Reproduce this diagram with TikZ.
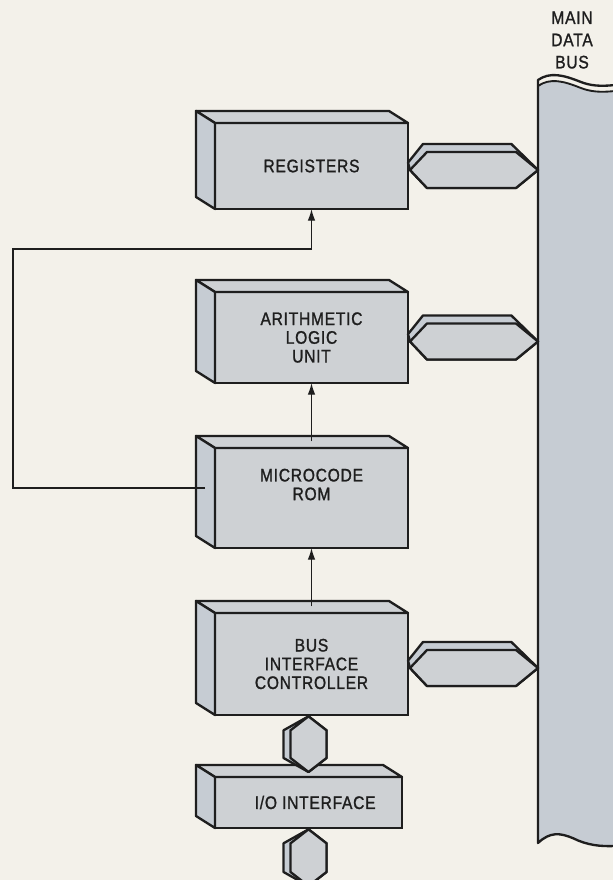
\documentclass[tikz,border=0pt]{standalone}
\usepackage{fontspec}
\setmainfont{Liberation Sans}[FakeBold=1.2,FakeStretch=0.86,LetterSpace=4]
\usetikzlibrary{calc,arrows.meta}
\definecolor{paper}{RGB}{243,241,234}
\definecolor{boxgray}{RGB}{206,209,212}
\definecolor{sidegray}{RGB}{198,204,211}
\definecolor{ink}{RGB}{30,30,30}

\begin{document}
\begin{tikzpicture}[
    unit/.style={draw=ink,line width=2pt,fill=boxgray,inner sep=0pt,outer sep=0pt,
      align=center,text=ink,font=\fontsize{15.5}{16}\selectfont},
    face/.style={draw=ink,line width=2pt,fill=sidegray,line join=round},
    link/.style={draw=ink,line width=1.2pt,-{Latex[length=10pt,width=6.5pt]}}]
  \useasboundingbox[fill=paper] (0,0) rectangle (18.39,26.4);

  \node[unit,minimum width=5.79cm,minimum height=2.58cm] (REG) at (9.345,21.42) {REGISTERS};
  \node[unit,minimum width=5.79cm,minimum height=2.73cm] (ALU) at (9.345,16.275) {ARITHMETIC\\LOGIC\\UNIT};
  \node[unit,minimum width=5.79cm,minimum height=3.0cm] (ROM) at (9.345,11.46) {MICROCODE\\ROM\\[0.25cm]};
  \node[unit,minimum width=5.79cm,minimum height=3.06cm] (BIC) at (9.345,6.48) {BUS\\INTERFACE\\CONTROLLER};
  \node[unit,minimum width=5.61cm,minimum height=1.53cm] (IO) at (9.255,2.325) {\hspace{0.4cm}I/O INTERFACE};

  % top and left faces of the boxes
  \foreach \b in {REG,ALU,ROM,BIC,IO} {
    \filldraw[face,fill=boxgray] (\b.north west) -- ++(-0.57,0.36)
      -- ($(\b.north east)+(-0.57,0.36)$) -- (\b.north east) -- cycle;
    \filldraw[face] (\b.north west) -- ++(-0.57,0.36)
      -- ($(\b.south west)+(-0.57,0.36)$) -- (\b.south west) -- cycle;
  }

  % main data bus
  \coordinate (bus) at (16.14,12);
  \fill[sidegray] (16.14,1.11) -- (16.14,23.82)
    .. controls (16.5,24.07) and (16.9,23.97) .. (17.4,23.77)
    .. controls (17.7,23.65) and (18.0,23.62) .. (18.45,23.67)
    -- (18.45,1.02) .. controls (18.0,1.0) and (17.6,1.05) .. (17.2,1.25)
    .. controls (16.8,1.42) and (16.5,1.45) .. (16.14,1.11) -- cycle;
  \draw[ink,line width=2pt,line join=round] (18.45,23.85)
    .. controls (18.0,23.8) and (17.7,23.83) .. (17.4,23.95)
    .. controls (16.9,24.15) and (16.5,24.25) .. (16.14,24.0)
    -- (16.14,1.11) .. controls (16.5,1.45) and (16.8,1.42) .. (17.2,1.25)
    .. controls (17.6,1.05) and (18.0,1.0) .. (18.45,1.02);
  \draw[ink,line width=1.6pt] (16.14,23.82)
    .. controls (16.5,24.07) and (16.9,23.97) .. (17.4,23.77)
    .. controls (17.7,23.65) and (18.0,23.62) .. (18.45,23.67);
  \node[align=center,text=ink,font=\fontsize{15.5}{19}\selectfont] (MDB) at (17.16,25.2) {MAIN\\DATA\\BUS};

  % bus connectors to the data bus
  \foreach \b in {REG,ALU,BIC} {
    \coordinate (L) at ($(\b.east)+(0.06,-0.12)$);
    \coordinate (R) at (L -| bus);
    \filldraw[face] ($(L)+(-0.06,0.22)$) -- ($(L)+(0.39,0.78)$) -- ($(R)+(-0.8,0.78)$)
      -- (R) -- ($(R)+(-0.66,-0.54)$) -- ($(L)+(0.51,-0.54)$) -- (L) -- cycle;
    \filldraw[face,fill=boxgray] (L) -- ++(0.51,0.54) -- ($(R)+(-0.66,0.54)$)
      -- (R) -- ($(R)+(-0.66,-0.54)$) -- ($(L)+(0.51,-0.54)$) -- cycle;
  }

  % bus connectors of the I/O interface
  \coordinate (T1) at ($(IO.north |- BIC.south)+(0,-0.04)$);
  \coordinate (B1) at ($(IO.north)+(0,0.15)$);
  \coordinate (T2) at ($(IO.south)+(0,-0.04)$);
  \coordinate (B2) at ($(T2)+(0,-1.7)$);
  \foreach \t/\e in {T1/B1,T2/B2} {
    \filldraw[face] (\t) -- ++(0.54,-0.42) -- ($(\e)+(0.54,0.42)$) -- (\e)
      -- ($(\e)+(-0.75,0.42)$) -- ($(\t)+(-0.75,-0.42)$) -- cycle;
    \filldraw[face,fill=boxgray] (\t) -- ++(0.54,-0.42) -- ($(\e)+(0.54,0.42)$)
      -- (\e) -- ($(\e)+(-0.54,0.42)$) -- ($(\t)+(-0.54,-0.42)$) -- cycle;
  }

  \draw[link] ($(ROM.north)+(0,0.2)$) -- (ALU.south);
  \draw[link] ($(BIC.north)+(0,0.2)$) -- (ROM.south);
  \draw[link] ($(ROM.west)+(-0.3,0.3)$) -| (0.39,18.93) -| (REG.south);
\end{tikzpicture}
\end{document}
